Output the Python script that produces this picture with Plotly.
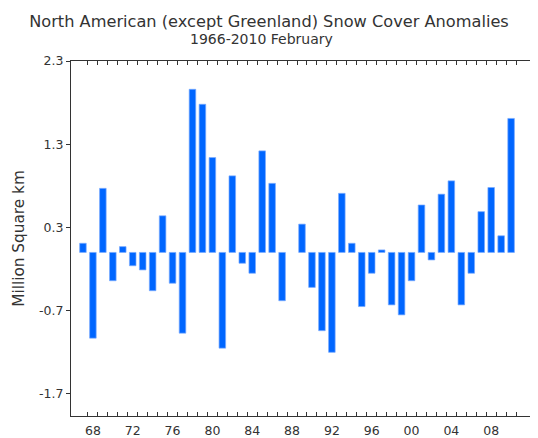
import plotly.graph_objects as go

years = list(range(1967, 2011))
anomalies = [
    0.11, -1.03, 0.77, -0.34, 0.07, -0.16, -0.21, -0.46, 0.44, -0.37,
    -0.97, 1.96, 1.78, 1.14, -1.15, 0.92, -0.13, -0.25, 1.22, 0.83,
    -0.58, None, 0.34, -0.42, -0.94, -1.20, 0.71, 0.11, -0.65, -0.25,
    0.03, -0.63, -0.75, -0.34, 0.57, -0.09, 0.70, 0.86, -0.63, -0.25,
    0.49, 0.78, 0.20, 1.61,
]
label_years = list(range(1968, 2009, 4))
label_text = [str(y)[-2:] for y in label_years]
y_ticks = [2.3, 1.3, 0.3, -0.7, -1.7]
minor_ticks = [y + 0.5 for y in years]

title_text = "North American (except Greenland) Snow Cover Anomalies"
subtitle_text = "1966-2010 February"
y_title = "Million Square km"

FONT = "DejaVu Sans"
TXT = "#333333"
AX = "#333333"

# page has an 8px body margin; figure is sized so it fits the 538x438 window
W, H = 530, 430
L, R, T, B = 63, 2, 53, 22
plot_w = W - L - R
plot_h = H - T - B

fig = go.Figure(
    go.Bar(
        x=years,
        y=anomalies,
        width=0.66,
        marker=dict(color="#0066ff", line=dict(color="rgba(120,170,255,0.7)", width=1)),
    )
)

fig.update_layout(
    width=W,
    height=H,
    margin=dict(l=L, r=R, t=T, b=B, autoexpand=False),
    paper_bgcolor="white",
    plot_bgcolor="white",
    showlegend=False,
    font=dict(family=FONT, color=TXT, size=12),
    title=dict(
        text=title_text,
        x=261 / W,
        xref="container",
        xanchor="center",
        y=1 - 13 / H,
        yref="container",
        yanchor="middle",
        font=dict(family=FONT, size=16.2, color=TXT),
    ),
    annotations=[
        dict(
            text=subtitle_text,
            xref="paper",
            yref="paper",
            x=(253.5 - L) / plot_w,
            y=1 + (T - 30.5) / plot_h,
            xanchor="center",
            yanchor="middle",
            showarrow=False,
            font=dict(family=FONT, size=14, color=TXT),
        )
    ],
    xaxis=dict(
        range=[1965.8, 2012.5],
        tickmode="array",
        tickvals=label_years,
        ticktext=label_text,
        ticks="",
        showgrid=False,
        zeroline=False,
        showline=True,
        linecolor=AX,
        linewidth=1,
        mirror="ticks",
        tickfont=dict(size=12.5, color=TXT),
        ticklabelstandoff=3,
        automargin=False,
        minor=dict(
            tickmode="array",
            tickvals=minor_ticks,
            ticks="inside",
            ticklen=4,
            tickcolor=AX,
            tickwidth=1,
            showgrid=False,
        ),
    ),
    yaxis=dict(
        range=[-1.965, 2.3],
        tickmode="array",
        tickvals=y_ticks,
        ticktext=[str(v) for v in y_ticks],
        ticks="outside",
        ticklen=4,
        tickcolor=AX,
        showgrid=False,
        zeroline=False,
        showline=True,
        linecolor=AX,
        linewidth=1,
        mirror="ticks",
        automargin=False,
        tickfont=dict(size=12.5, color=TXT),
        title=dict(text=y_title, font=dict(size=15.3, color=TXT), standoff=10),
    ),
)

fig.write_html("out.html")
